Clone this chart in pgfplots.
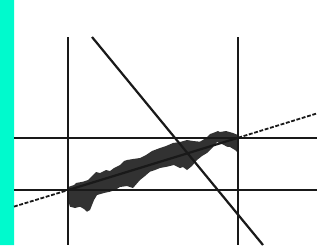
\documentclass[border=0pt]{standalone}
\usepackage{pgfplots}
\pgfplotsset{compat=1.18}
\definecolor{aqua}{RGB}{0,250,205}
\definecolor{ink}{RGB}{25,25,25}
\definecolor{band}{RGB}{50,50,50}
\begin{document}
\begin{tikzpicture}
\begin{axis}[
  width=3.17in, height=2.45in, scale only axis,
  xmin=0, xmax=317, ymin=0, ymax=245, y dir=reverse,
  enlargelimits=false, axis lines=none, clip=true,
]
% background
\addplot[fill=white, draw=none] coordinates {(0,0) (317,0) (317,245) (0,245)} \closedcycle;
% cyan bar
\addplot[fill=aqua, draw=none] coordinates {(0,0) (14,0) (14,245) (0,245)} \closedcycle;
% noise band
\addplot[fill=band, draw=none] coordinates {
(68,187) (74,185) (76,183) (83,181.7) (88,180) (92,176) (96,172) (100,173) (106,170) (110,171) (114,168) (120,165) (124,161) (127,160) (133,159) (140,158) (146,155) (152,151) (160,148) (166,146) (173,143) (180,142) (187,140) (193,141) (200,141.7) (206,138) (210,134) (213,133) (218,131) (220,132) (226,131) (233,133) (238,135)
(238,153) (235,150) (230,147) (227,146.7) (222,144) (217,142) (213,147) (207,153) (202,156) (197,160) (192,166) (187,170) (183,167) (180,168) (174,165) (167,166.7) (160,168) (155,170) (150,171.7) (145,176) (140,180) (133,188) (127,186) (120,187) (115,190) (110,191.7) (104,193) (97,195) (94,200) (90,210) (87,211.7) (84,209) (80,206.7) (75,208) (70,206.7) (68,200)
} -- cycle;
% vertical lines
\addplot[ink, line width=1.4pt] coordinates {(68.3,37) (68.3,245)};
\addplot[ink, line width=1.4pt] coordinates {(238.3,37) (238.3,245)};
% horizontal lines
\addplot[ink, line width=1.4pt] coordinates {(14,137.7) (317,137.7)};
\addplot[ink, line width=1.4pt] coordinates {(14,190) (317,190)};
% descending diagonal
\addplot[ink, line width=1.6pt] coordinates {(92,37) (263,245)};
% ascending line: dashed outside, solid inside
\addplot[ink, line width=1.3pt, dash pattern=on 2.8pt off 1.2pt] coordinates {(14,206.6) (68.3,190)};
\addplot[ink, line width=1.6pt] coordinates {(68.3,190) (238.3,137.7)};
\addplot[ink, line width=1.3pt, dash pattern=on 2.8pt off 1.2pt] coordinates {(238.3,137.7) (317,113.4)};
\end{axis}
\end{tikzpicture}
\end{document}
